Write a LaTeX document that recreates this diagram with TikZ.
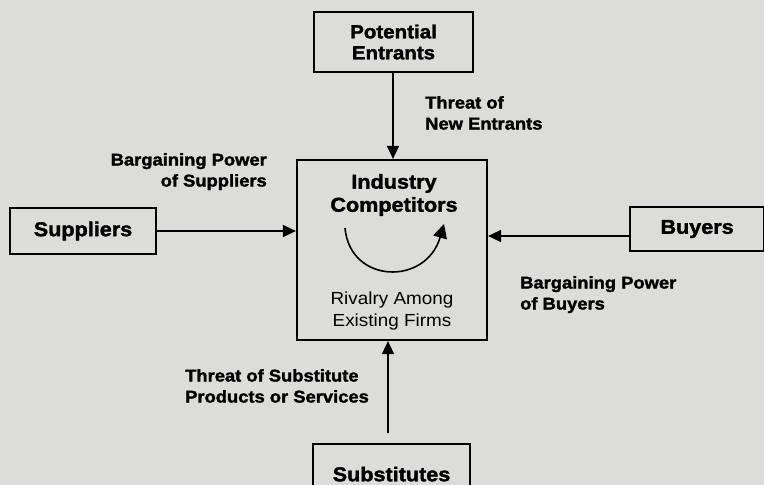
\documentclass[tikz,border=0pt]{standalone}
\usepackage{fontspec}
\setmainfont{Liberation Sans}[FakeStretch=1.08,BoldFeatures={FakeBold=1.8}]
\usetikzlibrary{arrows.meta}
\definecolor{paper}{HTML}{DCDCDA}
\begin{document}
\begin{tikzpicture}[x=1pt,y=-1pt,
  box/.style={draw=black,line width=2.2pt,inner sep=0pt,font=\fontsize{20}{21}\selectfont\bfseries,align=center},
  lbl/.style={font=\fontsize{17}{21}\selectfont\bfseries,inner sep=0pt},
  force/.style={line width=1.6pt,-{Triangle[length=13pt,width=12pt]}}]
  \fill[paper] (0,0) rectangle (764,485);
  \useasboundingbox (0,0) rectangle (764,485);
  % five forces boxes
  \node[box,minimum width=159pt,minimum height=60pt,font=\fontsize{19}{21}\selectfont\bfseries] (pe) at (393.5,42) {Potential\\Entrants};
  \node[box,minimum width=190pt,minimum height=180pt] (ic) at (392,250) {};
  \node[box,minimum width=146pt,minimum height=46pt] (su) at (83,231) {Suppliers};
  \node[box,minimum width=134pt,minimum height=44pt,anchor=west] (bu) at (629,229) {Buyers};
  \node[box,minimum width=157pt,minimum height=60pt,anchor=north] (sb) at (391.5,443) {Substitutes};
  % texts inside the central box
  \node[font=\fontsize{20}{23}\selectfont\bfseries,align=center,inner sep=0pt] (icT) at (394,195) {Industry\\Competitors};
  \node[align=center,font=\fontsize{17.5}{22}\selectfont,inner sep=0pt] (icB) at (392,311) {Rivalry Among\\Existing Firms};
  \coordinate (rs) at (345,228);
  \coordinate (re) at (444,224);
  \draw[line width=1.6pt,-{Triangle[length=14pt,width=14pt]}] (rs) .. controls (350,284) and (426,286) .. (re);
  % connectors
  \draw[force] (pe.south -| 393,0) -- (ic.north -| 393,0);
  \draw[force] (su.east) -- (su.east -| ic.west);
  \draw[force] (bu.west |- 0,236) -- (ic.east |- 0,236);
  \draw[force] (388,433) -- (ic.south -| 388,0);
  % force labels
  \node[lbl,align=left,anchor=north west] (tne) at (425,96) {Threat of\\New Entrants};
  \node[lbl,align=right,anchor=north east] (bps) at (267,153) {Bargaining Power\\of Suppliers};
  \node[lbl,align=left,anchor=north west] (bpb) at (520,276) {Bargaining Power\\of Buyers};
  \node[lbl,align=left,anchor=north west] (tsp) at (185,369) {Threat of Substitute\\Products or Services};
\end{tikzpicture}
\end{document}
